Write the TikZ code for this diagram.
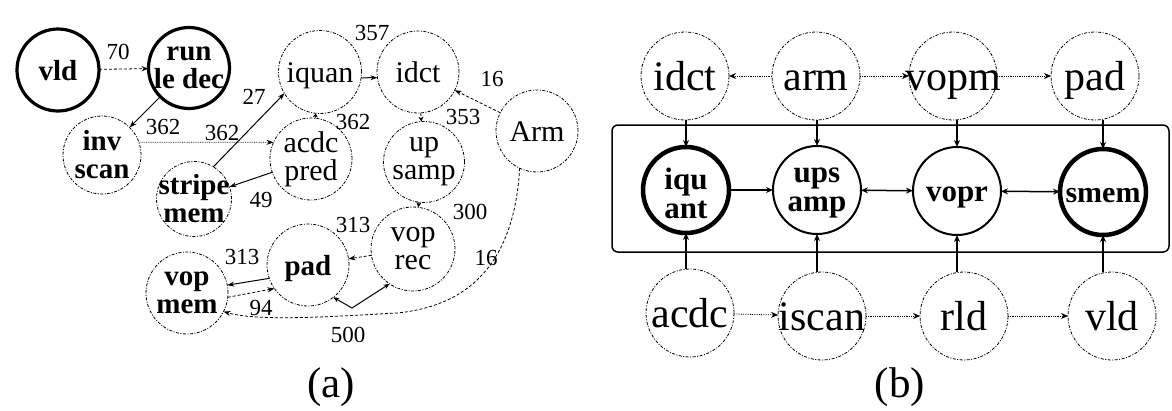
\documentclass[tikz,border=0pt]{standalone}
\usepackage{fontspec}
\setmainfont{Liberation Serif}
\usetikzlibrary{arrows.meta}
\begin{document}
\begin{tikzpicture}[x=1pt,y=-1pt,
  every node/.style={inner sep=0pt,outer sep=0pt},
  dd/.style={dash pattern=on 3pt off 1.5pt on 1pt off 1.5pt},
  onea/.style={text height=20.5pt,text depth=0pt},
  oneb/.style={text height=28.5pt,text depth=0pt},
  onem/.style={text height=21pt,text depth=0pt},
  ca/.style={circle,draw,line width=0.8pt,dd,minimum size=82pt},
  cthick/.style={circle,draw,line width=3.2pt,minimum size=82pt},
  la/.style={font=\fontsize{30}{28}\selectfont,align=center},
  lab/.style={font=\fontsize{29}{28}\selectfont\bfseries,align=center},
  num/.style={font=\fontsize{23}{23}\selectfont},
  tip/.style={-{Stealth[length=7pt,width=5pt]}},
  tips/.style={{Stealth[length=6pt,width=5pt]}-{Stealth[length=6pt,width=5pt]}},
  ed/.style={line width=0.8pt,dash pattern=on 3pt off 2pt},
  dt/.style={line width=0.8pt,densely dotted},
  sol/.style={line width=1pt},
  tb/.style={circle,draw,line width=0.8pt,dd,minimum size=88pt},
  lb/.style={font=\fontsize{42}{42}\selectfont,oneb},
  lbb/.style={font=\fontsize{31}{29}\selectfont\bfseries,align=center},
  mid/.style={circle,draw,line width=2pt,minimum size=88pt},
  midthick/.style={circle,draw,line width=4.5pt,minimum size=86pt},
  conn/.style={line width=1.5pt},
  bdot/.style={line width=0.8pt,densely dotted},
  bt/.style={-{Stealth[length=7pt,width=6pt]}},
  bts/.style={{Stealth[length=7pt,width=6pt]}-{Stealth[length=7pt,width=6pt]}}
]
\useasboundingbox (0,0) rectangle (1172,410);

% ---------------- panel (a) ----------------
\node[cthick,label={[lab,onea]center:vld}] (vld) at (58,70) {};
\node[cthick,minimum size=81pt,label={[lab]center:{run\\le dec}}] (run) at (189,68) {};
\node[ca,minimum size=78pt,label={[lab]center:{inv\\scan}}] (inv) at (102,155) {};
\node[ca,minimum size=75pt,label={[lab]center:{stripe\\mem}}] (stripe) at (194,199) {};
\node[ca,label={[la]center:{acdc\\pred}}] (acdc) at (311,159) {};
\node[ca,minimum size=83pt,label={[la,onea]center:iquan}] (iquan) at (320,72) {};
\node[ca,label={[la,onea]center:idct}] (idct) at (418,72) {};
\node[ca,label={[la,onea]center:Arm}] (arm) at (537,131) {};
\node[ca,minimum size=81pt,label={[la]center:{up\\samp}}] (ups) at (424,162) {};
\node[ca,minimum size=84pt,label={[la]center:{vop\\rec}}] (voprec) at (413,249) {};
\node[ca,label={[lab,onea]center:pad}] (pada) at (308,265) {};
\node[ca,label={[lab]center:{vop\\mem}}] (vopmem) at (187,293) {};

\draw[ed,tip] (vld) -- (run);
\draw[sol,tip] (run) -- (inv);
\draw[dt,tip] (inv.19) -- (acdc.156);
\draw[sol,tip] (stripe.59) -- (iquan.211);
\draw[sol,tip] (acdc) -- (stripe);
\draw[ed,-{Stealth[length=4pt,width=5pt]}] (acdc) -- (iquan);
\draw[sol,tip] (iquan.-8) -- (idct.188);
\draw[ed,tip] (arm) -- (idct);
\draw[ed,-{Stealth[length=5pt,width=5pt]}] (idct) -- (ups);
\draw[ed,-{Stealth[length=5pt,width=5pt]}] (ups) -- (voprec);
\draw[ed,tip] (voprec) -- (pada);
\draw[sol,tip] (pada.199) -- (vopmem.11);
\draw[ed,tip] (vopmem.354) -- (pada.215);
\draw[sol,tips] (pada.308) -- (352,308) -- (voprec.236);
\draw[ed,tip] (arm.245) .. controls (515,250) and (480,305) .. (397,313)
   .. controls (340,316) and (260,322) .. (vopmem.333);

\node[num] (n70) at (118,52) {70};
\node[num] (n362a) at (163,127) {362};
\node[num] (n362b) at (222,133) {362};
\node[num] (n27) at (254,97) {27};
\node[num] (n49) at (261,200) {49};
\node[num] (n362c) at (353,122) {362};
\node[num] (n357) at (372,33) {357};
\node[num] (n16a) at (492,79) {16};
\node[num] (n353) at (463,117) {353};
\node[num] (n300) at (470,212) {300};
\node[num] (n313a) at (353,225) {313};
\node[num] (n16b) at (486,258) {16};
\node[num] (n313b) at (242,257) {313};
\node[num] (n94) at (261,308) {94};
\node[num] (n500) at (348,335) {500};

\node[font=\fontsize{43}{43}\selectfont] (capa) at (331,387) {(a)};

% ---------------- panel (b) ----------------
\node[draw,line width=1.5pt,rounded corners=6pt,minimum width=557pt,minimum height=127pt] (grp) at (890.5,188.5) {};

\node[tb,label={[lb]center:idct}] (bidct) at (685,76) {};
\node[tb,label={[lb]center:arm}] (barm) at (816,76) {};
\node[tb,label={[lb]center:vopm}] (bvopm) at (953,76) {};
\node[tb,label={[lb]center:pad}] (bpad) at (1095,76) {};

\node[midthick,label={[lbb,yshift=-3pt]center:{iqu\\ant}}] (biq) at (686,190) {};
\node[mid,label={[lbb,yshift=-3pt]center:{ups\\amp}}] (bups) at (817,190) {};
\node[mid,label={[lbb,onem]center:vopr}] (bvopr) at (957,191) {};
\node[midthick,label={[lbb,onem,font=\fontsize{30}{27}\selectfont\bfseries]center:smem}] (bsmem) at (1103,192) {};

\node[tb,label={[lb]center:acdc}] (bacdc) at (690,313) {};
\node[tb,label={[lb]center:iscan}] (biscan) at (822,316) {};
\node[tb,label={[lb]center:rld}] (brld) at (964,316) {};
\node[tb,label={[lb]center:vld}] (bvld) at (1112,316) {};

% top row
\draw[bdot,bt] (barm) -- (bidct);
\draw[bdot,bt] (barm) -- (bvopm);
\draw[bdot,bt] (bvopm) -- (bpad);
% bottom row
\draw[bdot,bt] (bacdc) -- (biscan);
\draw[bdot,bt] (biscan) -- (brld);
\draw[bdot,bt] (brld) -- (bvld);
% middle row
\draw[conn,bt] (biq) -- (bups);
\draw[conn,bts] (bvopr) -- (bups);
\draw[conn,bts] (bvopr) -- (bsmem);
% verticals
\draw[conn,bt] (bidct.south -| biq) -- (biq.north);
\draw[conn,bt] (barm.south -| bups) -- (bups.north);
\draw[conn,bt] (bvopm.south -| bvopr) -- (bvopr.north);
\draw[conn,bt] (bpad.south -| bsmem) -- (bsmem.north);
\draw[conn,bt] (bacdc.north -| biq) -- (biq.south);
\draw[conn,bt] (biscan.north -| bups) -- (bups.south);
\draw[conn,bt] (brld.north -| bvopr) -- (bvopr.south);
\draw[conn,bt] (bvld.north -| bsmem) -- (bsmem.south);

\node[font=\fontsize{43}{43}\selectfont] (capb) at (900,387) {(b)};
\end{tikzpicture}
\end{document}
